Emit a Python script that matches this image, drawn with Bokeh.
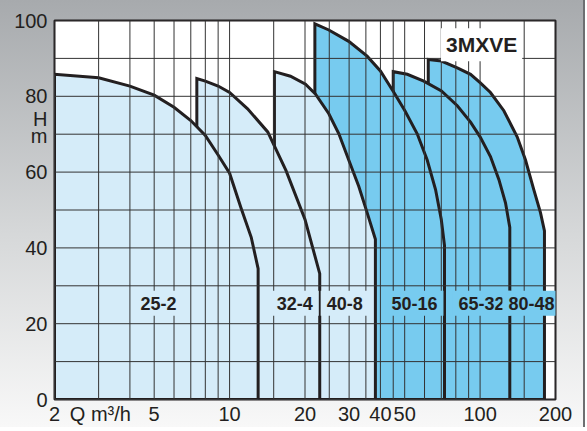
from bokeh.plotting import figure
from bokeh.models import Range1d, FixedTicker, Label, InlineStyleSheet
from bokeh.embed import file_html
from bokeh.resources import INLINE

# ---------------- data ----------------
pump_names = ["25-2", "32-4", "40-8", "50-16", "65-32", "80-48"]

q_25_2 = [2.0, 3, 4, 5, 6, 7, 8, 9, 10, 11.1, 12.2, 13.0]
h_25_2 = [85.8, 84.9, 82.7, 80.3, 77.1, 73.6, 69.7, 64.5, 59.7, 50.6, 42.8, 34.5]

q_32_4 = [7.4, 8, 9, 10, 11.8, 14.2, 16.8, 20, 22.9]
h_32_4 = [84.7, 84.0, 82.7, 81.0, 76.7, 70.6, 60.4, 47.5, 33.2]

q_40_8 = [15.1, 17.5, 20.1, 22.0, 24.9, 27.3, 29.9, 32.8, 35.4, 38.2]
h_40_8 = [86.5, 85.3, 83.2, 80.6, 75.4, 70.1, 63.2, 56.2, 49.3, 42.3]

q_50_16 = [21.9, 24.9, 29.9, 35.4, 40.0, 45.3, 50.1, 56.1, 61.5, 66.4, 70.0, 72.1]
h_50_16 = [99.1, 97.5, 94.5, 90.6, 86.7, 81.0, 76.2, 70.1, 63.2, 55.4, 47.5, 40.6]

q_65_32 = [45.0, 51.2, 59.6, 70.1, 81.1, 91.6, 100, 110, 118.9, 126.3, 131.4]
h_65_32 = [86.5, 85.8, 84.0, 81.4, 77.5, 73.2, 69.3, 64.1, 58.0, 51.9, 45.4]

q_80_48 = [62.1, 70.1, 81.1, 91.6, 100, 110, 124.4, 140.6, 151.8, 163.8, 174.2, 180.7]
h_80_48 = [89.7, 89.3, 87.5, 85.8, 83.6, 81.0, 76.2, 69.3, 63.2, 55.4, 49.3, 44.5]

# label anchor points (Q, H) for the pump names
label_q = [5.2, 18.2, 28.8, 54.7, 101.4, 160.3]
label_h = [25.4, 25.4, 25.4, 25.4, 25.4, 25.4]

# axis ticks / grid
x_labels = {2: "2", 5: "5", 10: "10", 20: "20", 30: "30", 40: "40",
            50: "50", 100: "100", 200: "200"}
x_grid = [2, 3, 4, 5, 6, 7, 8, 9, 10, 15, 20, 25, 30, 35, 40, 45,
          50, 60, 70, 80, 90, 100, 150, 200]
y_labels = {0: "0", 20: "20", 40: "40", 60: "60", 80: "80", 100: "100"}
y_grid = [0, 10, 20, 30, 40, 50, 60, 70, 80, 90, 100]
x_title_pos = 3.05          # where "Q m³/h" sits on the Q axis
y_title_pos = {74: "H", 69.5: "m"}

LIGHT = "#d5ecf9"
DARK = "#77cbef"
INK = "#231f20"
GRID = "#333333"
FONT = "Liberation Sans"

p = figure(width=585, height=427, x_axis_type="log",
           x_range=Range1d(2, 200), y_range=Range1d(0, 100),
           output_backend="svg", toolbar_location=None,
           min_border_left=54, min_border_right=30,
           min_border_top=20, min_border_bottom=24)

p.border_fill_color = None
p.stylesheets = [InlineStyleSheet(css=(
    ":host { background: linear-gradient(to bottom, #a7aaad 0%, #d6d8d9 55%, #f8f8f8 100%);"
    " box-shadow: inset -2px 0 0 #6d6f71; }"))]
p.background_fill_color = "white"
p.outline_line_color = INK
p.outline_line_width = 2

series = [
    (q_80_48, h_80_48, DARK),
    (q_65_32, h_65_32, DARK),
    (q_50_16, h_50_16, DARK),
    (q_40_8, h_40_8, LIGHT),
    (q_32_4, h_32_4, LIGHT),
    (q_25_2, h_25_2, LIGHT),
]
for q, h, col in series:
    xs = [q[0]] + list(q) + [q[-1]]
    ys = [0] + list(h) + [0]
    p.patch(xs, ys, fill_color=col, line_color=INK, line_width=3,
            line_join="miter")

# grid drawn above the coloured areas
x0, x1 = p.x_range.start, p.x_range.end
y0, y1 = p.y_range.start, p.y_range.end
p.segment(x0=x_grid, y0=[y0] * len(x_grid), x1=x_grid, y1=[y1] * len(x_grid),
          line_color=GRID, line_width=1)
p.segment(x0=[x0] * len(y_grid), y0=y_grid, x1=[x1] * len(y_grid), y1=y_grid,
          line_color=GRID, line_width=1)
p.xgrid.grid_line_color = None
p.ygrid.grid_line_color = None

xticks = sorted(list(x_labels.keys()) + [x_title_pos])
xover = dict(x_labels)
xover[x_title_pos] = "Q m³/h"
p.xaxis.ticker = FixedTicker(ticks=xticks, minor_ticks=[])
p.xaxis.major_label_overrides = xover

yticks = sorted(list(y_labels.keys()) + list(y_title_pos.keys()))
yover = dict(y_labels)
yover.update(y_title_pos)
p.yaxis.ticker = FixedTicker(ticks=yticks, minor_ticks=[])
p.yaxis.major_label_overrides = yover

for ax in (p.xaxis[0], p.yaxis[0]):
    ax.axis_line_color = None
    ax.major_tick_line_color = None
    ax.minor_tick_line_color = None
    ax.major_tick_out = 0
    ax.major_tick_in = 0
    ax.major_label_text_font = FONT
    ax.major_label_text_font_size = "20px"
    ax.major_label_text_color = INK
p.xaxis.major_label_standoff = 3
p.yaxis.major_label_standoff = 7

# pump labels
for name, lq, lh, (_, _, col) in zip(pump_names, label_q, label_h, series[::-1]):
    p.add_layout(Label(x=lq, y=lh, text=name, text_align="center",
                       text_baseline="middle", text_font=FONT,
                       text_font_style="bold", text_font_size="18px",
                       text_color=INK, background_fill_color=col,
                       padding=6))

p.add_layout(Label(x=101.4, y=93.6, text="3MXVE", text_align="center",
                   text_baseline="middle", text_font=FONT,
                   text_font_style="bold", text_font_size="21px",
                   text_color=INK, background_fill_color="white", padding=5))

open("out.html", "w").write(file_html(p, INLINE))
